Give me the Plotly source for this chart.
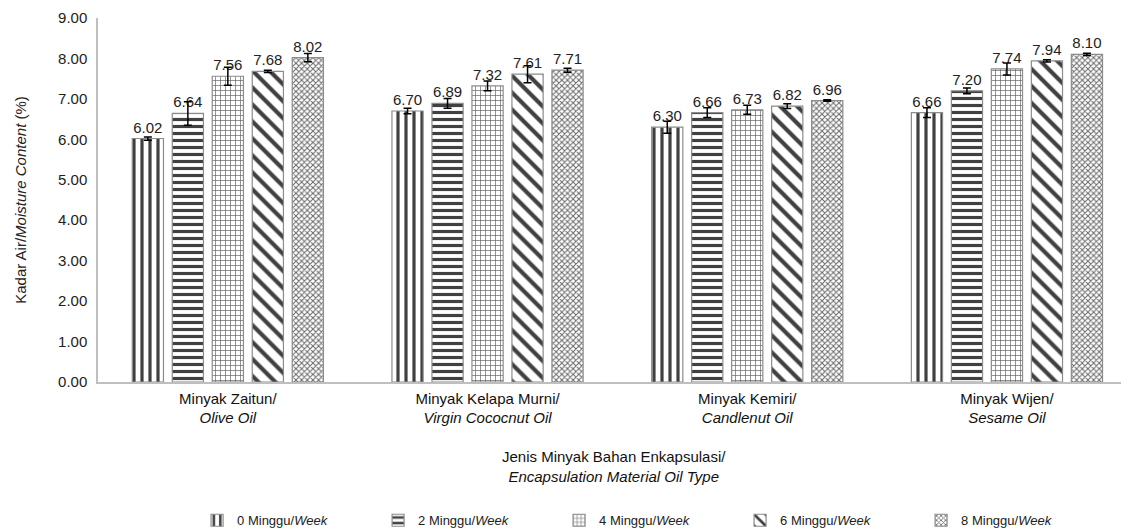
import plotly.graph_objects as go

categories = ["Minyak Zaitun/<br><i>Olive Oil</i>",
              "Minyak Kelapa Murni/<br><i>Virgin Cococnut Oil</i>",
              "Minyak Kemiri/<br><i>Candlenut Oil</i>",
              "Minyak Wijen/<br><i>Sesame Oil</i>"]
series_names = ["0 Minggu/<i>Week</i>", "2 Minggu/<i>Week</i>", "4 Minggu/<i>Week</i>",
                "6 Minggu/<i>Week</i>", "8 Minggu/<i>Week</i>"]
week0 = [6.02, 6.70, 6.30, 6.66]
week2 = [6.64, 6.89, 6.66, 7.20]
week4 = [7.56, 7.32, 6.73, 7.74]
week6 = [7.68, 7.61, 6.82, 7.94]
week8 = [8.02, 7.71, 6.96, 8.10]
err0 = [0.04, 0.07, 0.15, 0.12]
err2 = [0.29, 0.12, 0.12, 0.07]
err4 = [0.22, 0.12, 0.11, 0.15]
err6 = [0.03, 0.21, 0.06, 0.03]
err8 = [0.10, 0.05, 0.02, 0.03]

values = [week0, week2, week4, week6, week8]
errors = [err0, err2, err4, err6, err8]
patterns = [
    dict(shape="|", size=8, solidity=0.4, fgcolor="#404040", bgcolor="white", fillmode="replace"),
    dict(shape="-", size=7, solidity=0.45, fgcolor="#404040", bgcolor="white", fillmode="replace"),
    dict(shape="+", size=5, solidity=0.25, fgcolor="#606060", bgcolor="white", fillmode="replace"),
    dict(shape="\\", size=12, solidity=0.35, fgcolor="#404040", bgcolor="white", fillmode="replace"),
    dict(shape="x", size=4, solidity=0.45, fgcolor="#6a6a6a", bgcolor="white", fillmode="replace"),
]

FONT = "Liberation Sans, Arial"
fig = go.Figure()
for name, vals, errs, pat in zip(series_names, values, errors, patterns):
    fig.add_trace(go.Bar(
        x=categories, y=vals, name=name,
        text=[f"{v:.2f}" for v in vals], textposition="outside",
        textfont=dict(size=15, color="#222222", family=FONT),
        cliponaxis=False,
        marker=dict(color="white", pattern=pat, line=dict(color="#8c8c8c", width=1.2)),
        error_y=dict(type="data", array=errs, visible=True, color="black", thickness=1.5, width=4),
    ))

fig.update_layout(
    width=1121, height=523,
    margin=dict(l=90, r=0, t=10, b=149, autoexpand=False),
    paper_bgcolor="white", plot_bgcolor="white",
    barmode="group", bargap=0.23, bargroupgap=0.22,
    font=dict(family=FONT, size=15, color="#222222"),
    xaxis=dict(range=[-0.5, 3.47], showline=True, linecolor="#bfbfbf", linewidth=1.5,
               ticks="", tickfont=dict(size=15, color="#111111"), showgrid=False, automargin=False,
               ticklabelstandoff=2),
    yaxis=dict(range=[0, 9], dtick=1, tickformat=".2f", showline=True, linecolor="#bfbfbf",
               linewidth=1.5, ticks="", showgrid=False, zeroline=False, automargin=False,
               tickfont=dict(size=15, color="#222222"), ticklabelstandoff=6,
               title=dict(text="Kadar Air/<i>Moisture Content</i> (%)", font=dict(size=15), standoff=28)),
    showlegend=True,
    legend=dict(orientation="h", x=0.535, xanchor="center", y=-0.38, yanchor="middle",
                font=dict(size=13, color="#222222"), entrywidth=136, entrywidthmode="pixels",
                itemwidth=30, traceorder="normal"),
    annotations=[dict(text="Jenis Minyak Bahan Enkapsulasi/<br><i>Encapsulation Material Oil Type</i>",
                      xref="paper", yref="paper", x=0.5, y=-0.233, xanchor="center", yanchor="middle",
                      showarrow=False, font=dict(size=15, color="#111111"))],
)

fig.write_html("out.html")
